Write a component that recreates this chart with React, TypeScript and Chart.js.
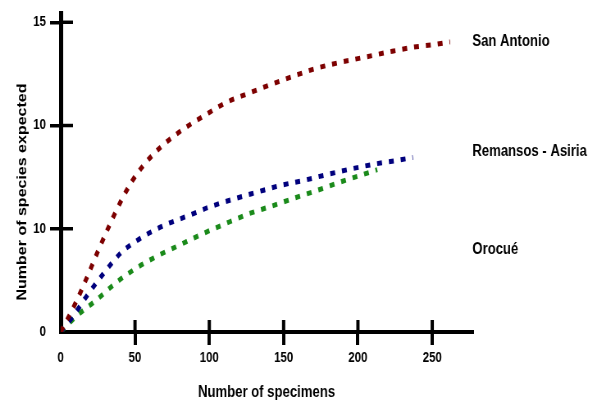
import React, { useEffect, useRef } from "react";
import { Chart, registerables } from "chart.js";

Chart.register(...registerables);

// ---- data ----
const xTickValues = [0, 50, 100, 150, 200, 250];
const yTickValues = [0, 5, 10, 15];
const yTickLabels = ["0", "10", "10", "15"];
const seriesNames = ["San Antonio", "Remansos - Asiria", "Orocué"];

const sanAntonioX = [0, 10, 18, 25, 33, 41, 48, 56, 68, 82, 96, 111, 126, 142, 157, 172, 188, 204, 220, 237, 252, 262];
const sanAntonioY = [0, 1.4, 2.7, 3.9, 5.2, 6.4, 7.3, 8.1, 9.0, 9.8, 10.45, 11.1, 11.55, 12.0, 12.4, 12.77, 13.06, 13.3, 13.55, 13.79, 13.93, 14.05];

const remansosX = [0, 8, 18, 29, 41, 48, 55, 62, 70, 85, 100, 116, 132, 148, 164, 180, 195, 211, 227, 237];
const remansosY = [0, 0.73, 1.79, 2.85, 3.87, 4.26, 4.6, 4.89, 5.18, 5.61, 6.05, 6.43, 6.77, 7.1, 7.35, 7.64, 7.89, 8.13, 8.32, 8.45];

const orocueX = [0, 10, 24, 37, 51, 65, 80, 95, 110, 126, 142, 157, 173, 188, 204, 213];
const orocueY = [0, 0.73, 1.55, 2.37, 3.1, 3.68, 4.21, 4.74, 5.22, 5.71, 6.1, 6.48, 6.87, 7.26, 7.64, 7.86];

const seriesColors = ["#7d0000", "#00007d", "#1a8a1a"];

const toPoints = (xs: number[], ys: number[]) => xs.map((x, i) => ({ x, y: ys[i] }));

// horizontal squeeze of the original picture
const SQUEEZE = 0.82;
const CSS_W = 597;
const CSS_H = 402;
const CANVAS_W = Math.round(CSS_W / SQUEEZE);

const FONT = "'Liberation Sans', Arial, sans-serif";

const extrasPlugin = {
  id: "extras",
  afterDraw(chart: any) {
    const ctx = chart.ctx;
    const xs = chart.scales.x;
    const ys = chart.scales.y;
    const area = chart.chartArea;
    ctx.save();
    ctx.strokeStyle = "#000";
    // inner tick marks on x axis
    ctx.lineWidth = 4;
    xs.ticks.forEach((t: any) => {
      if (t.value === 0) return;
      const px = xs.getPixelForValue(t.value);
      ctx.beginPath();
      ctx.moveTo(px, area.bottom);
      ctx.lineTo(px, area.bottom - 12);
      ctx.stroke();
    });
    // inner tick marks on y axis
    ctx.lineWidth = 3.5;
    ys.ticks.forEach((t: any) => {
      if (t.value === 0) return;
      const py = ys.getPixelForValue(t.value);
      ctx.beginPath();
      ctx.moveTo(area.left, py);
      ctx.lineTo(area.left + 15, py);
      ctx.stroke();
    });
    // series labels on the right
    ctx.fillStyle = "#000";
    ctx.font = `bold 16px ${FONT}`;
    ctx.textAlign = "left";
    ctx.textBaseline = "alphabetic";
    const labelY = [46, 156, 254];
    seriesNames.forEach((name, i) => {
      ctx.fillText(name, area.right, labelY[i]);
    });
    // y axis title
    ctx.translate(31.5, 192);
    ctx.rotate(-Math.PI / 2);
    ctx.textAlign = "center";
    ctx.fillText("Number of species expected", 0, 0);
    ctx.restore();
  },
};

export default function App() {
  const canvasRef = useRef<HTMLCanvasElement | null>(null);

  useEffect(() => {
    const canvas = canvasRef.current;
    if (!canvas) return;
    const chart = new Chart(canvas, {
      type: "line",
      data: {
        datasets: [
          { label: seriesNames[0], data: toPoints(sanAntonioX, sanAntonioY) },
          { label: seriesNames[1], data: toPoints(remansosX, remansosY) },
          { label: seriesNames[2], data: toPoints(orocueX, orocueY) },
        ].map((d, i) => ({
          ...d,
          borderColor: seriesColors[i],
          backgroundColor: seriesColors[i],
          borderWidth: 5,
          borderDash: [6, 8.5],
          borderCapStyle: "butt" as const,
          cubicInterpolationMode: "monotone" as const,
          pointRadius: 0,
          fill: false,
        })),
      },
      options: {
        animation: false,
        responsive: false,
        devicePixelRatio: 1,
        layout: { padding: { top: 13, right: CANVAS_W - 576, left: 0, bottom: 0 } },
        plugins: {
          legend: { display: false },
          tooltip: { enabled: false },
        },
        scales: {
          x: {
            type: "linear",
            min: 0,
            max: 277,
            afterBuildTicks: (scale: any) => {
              scale.ticks = xTickValues.map((v) => ({ value: v }));
            },
            afterFit: (scale: any) => {
              scale.height = 70;
            },
            border: { display: true, color: "#000", width: 4 },
            grid: {
              drawOnChartArea: false,
              drawTicks: true,
              tickLength: 13,
              lineWidth: 4,
              color: (c: any) => (c.tick && c.tick.value === 0 ? "rgba(0,0,0,0)" : "#000"),
            },
            ticks: {
              padding: 5,
              color: "#000",
              font: { family: FONT, size: 14, weight: "bold" },
              callback: (v: any) => String(v),
            },
            title: {
              display: true,
              text: "Number of specimens",
              color: "#000",
              font: { family: FONT, size: 16, weight: "bold" },
              padding: { top: -3, bottom: 0 },
            },
          },
          y: {
            type: "linear",
            min: 0,
            max: 15.43,
            afterBuildTicks: (scale: any) => {
              scale.ticks = yTickValues.map((v) => ({ value: v }));
            },
            afterFit: (scale: any) => {
              scale.width = 74;
            },
            border: { display: true, color: "#000", width: 5 },
            grid: {
              drawOnChartArea: false,
              drawTicks: true,
              tickLength: 13,
              lineWidth: 3.5,
              color: (c: any) => (c.tick && c.tick.value === 0 ? "rgba(0,0,0,0)" : "#000"),
            },
            ticks: {
              padding: 5,
              color: "#000",
              font: { family: FONT, size: 14, weight: "bold" },
              callback: (_v: any, i: number) => yTickLabels[i],
            },
            title: { display: false },
          },
        },
      },
      plugins: [extrasPlugin],
    } as any);
    return () => chart.destroy();
  }, []);

  return (
    <div style={{ position: "fixed", left: 0, top: 0, width: CSS_W, height: CSS_H, background: "#fff" }}>
      <canvas
        ref={canvasRef}
        width={CANVAS_W}
        height={CSS_H}
        style={{ width: `${CSS_W}px`, height: `${CSS_H}px`, display: "block" }}
      />
    </div>
  );
}
